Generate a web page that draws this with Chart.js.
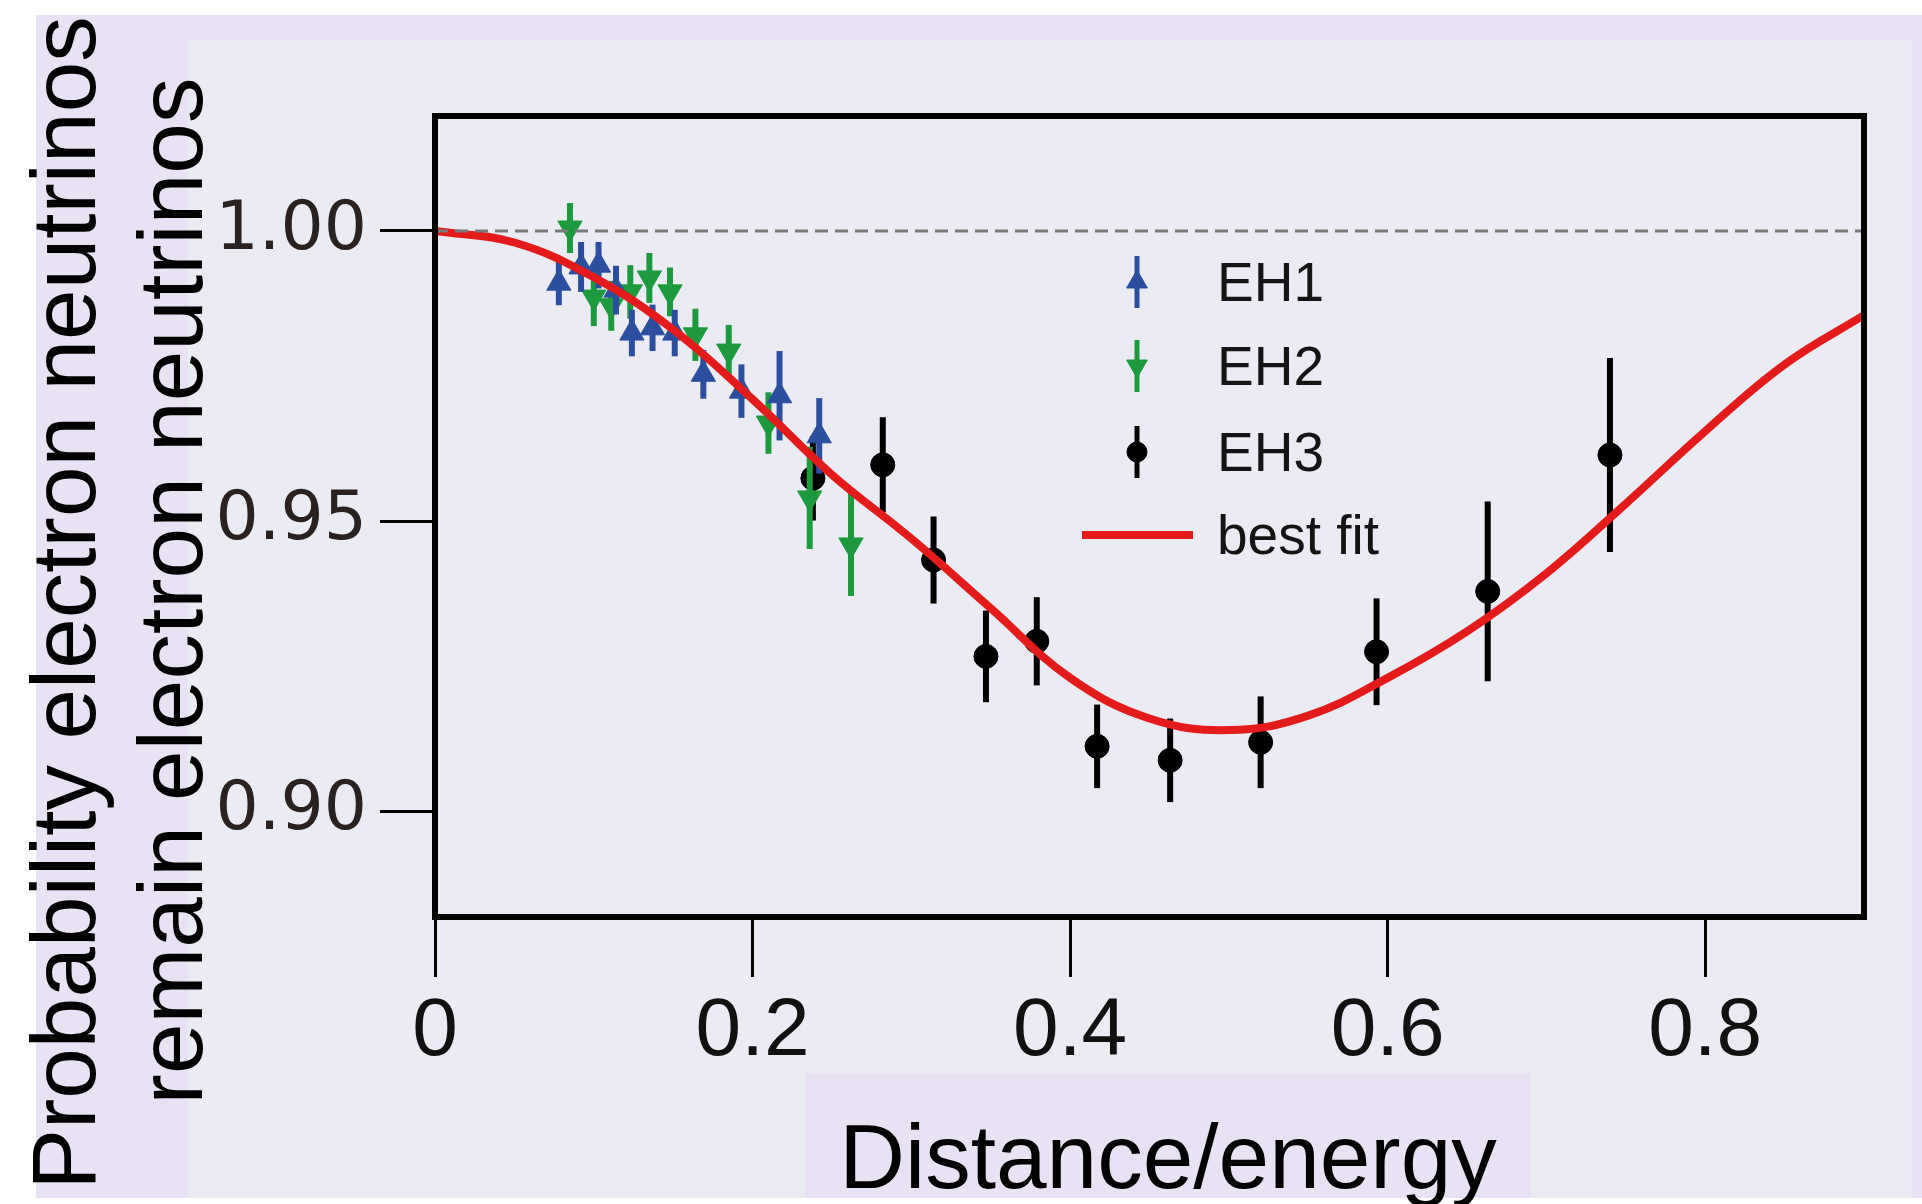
<!DOCTYPE html>
<html>
<head>
<meta charset="utf-8">
<title>Electron neutrino survival probability</title>
<script src="https://cdn.jsdelivr.net/npm/chart.js@4.4.1/dist/chart.umd.min.js"></script>
<style>
  html, body { margin: 0; padding: 0; background: #fff; }
  #chart { display: block; }
</style>
</head>
<body>
<canvas id="chart" width="1922" height="1204"></canvas>
<script>
// values
const xTicks = [0, 0.2, 0.4, 0.6, 0.8];
const xTickLabels = ['0', '0.2', '0.4', '0.6', '0.8'];
const yTicks = [0.90, 0.95, 1.00];
const yTickLabels = ['0.90', '0.95', '1.00'];

const eh1X = [0.078, 0.092, 0.103, 0.114, 0.124, 0.137, 0.151, 0.169, 0.193, 0.217, 0.242];
const eh1Y = [0.991, 0.9938, 0.9941, 0.9898, 0.9824, 0.9833, 0.9824, 0.9753, 0.9724, 0.9716, 0.9647];
const eh1Err = [0.0038, 0.0043, 0.004, 0.0042, 0.004, 0.004, 0.004, 0.0042, 0.0046, 0.0077, 0.0065];

const eh2X = [0.085, 0.100, 0.111, 0.123, 0.135, 0.148, 0.164, 0.185, 0.210, 0.236, 0.262];
const eh2Y = [1.0005, 0.9886, 0.9871, 0.9895, 0.9919, 0.9895, 0.9821, 0.9793, 0.9669, 0.954, 0.9459];
const eh2Err = [0.0043, 0.005, 0.0043, 0.0046, 0.0043, 0.0042, 0.0045, 0.0045, 0.0053, 0.0088, 0.0088];

const eh3X = [0.238, 0.282, 0.314, 0.347, 0.379, 0.417, 0.463, 0.520, 0.593, 0.663, 0.740];
const eh3Y = [0.9574, 0.9597, 0.9433, 0.9267, 0.9293, 0.9112, 0.9088, 0.9119, 0.9275, 0.9379, 0.9614];
const eh3Err = [0.0073, 0.0082, 0.0075, 0.0079, 0.0076, 0.0072, 0.0072, 0.0079, 0.0092, 0.0155, 0.0167];

const fitX = [0, 0.05, 0.1, 0.15, 0.2, 0.25, 0.3, 0.35, 0.4, 0.45, 0.5, 0.55, 0.6, 0.65, 0.7, 0.75, 0.8, 0.85, 0.9];
const fitY = [1.000, 0.998, 0.992, 0.983, 0.971, 0.958, 0.947, 0.935, 0.923, 0.916, 0.914, 0.9165, 0.923, 0.931, 0.941, 0.953, 0.9655, 0.977, 0.9855];

const refX = [0, 0.9];
const refY = [1.0, 1.0];

const BLUE = '#2b4f9e';
const GREEN = '#1e9a3e';
const BLACK = '#000000';
const RED = '#e41b1b';
const BG = '#ebebf4';
const LAVENDER = '#e9e2f5';

const toPoints = (xs, ys) => xs.map((x, i) => ({ x: x, y: ys[i] }));

// page background and the two axis titles
const backdrop = {
    id: 'backdrop',
    beforeDraw(chart) {
        const ctx = chart.ctx;
        ctx.save();
        ctx.fillStyle = '#ffffff';
        ctx.fillRect(0, 0, chart.width, chart.height);
        ctx.fillStyle = BG;
        ctx.fillRect(36, 15, 1886, 1183);
        ctx.fillStyle = LAVENDER;
        ctx.fillRect(36, 15, 1886, 25);
        ctx.fillRect(1912, 15, 10, 1183);
        ctx.fillRect(36, 15, 152, 1183);
        ctx.fillRect(805, 1073, 726, 125);

        ctx.fillStyle = '#000';
        ctx.font = '91px "Liberation Sans", Arial, sans-serif';
        ctx.textAlign = 'center';
        ctx.textBaseline = 'alphabetic';
        ctx.fillText('Distance/energy', 1168, 1188);

        ctx.translate(95, 603);
        ctx.rotate(-Math.PI / 2);
        ctx.fillText('Probability electron neutrinos', 0, 0);
        ctx.restore();

        ctx.save();
        ctx.fillStyle = '#000';
        ctx.font = '91px "Liberation Sans", Arial, sans-serif';
        ctx.textAlign = 'center';
        ctx.translate(202, 591);
        ctx.rotate(-Math.PI / 2);
        ctx.fillText('remain electron neutrinos', 0, 0);
        ctx.restore();
    }
};

// vertical error bars, drawn right after each dataset
const errorBars = {
    id: 'errorBars',
    afterDatasetDraw(chart, args) {
        const ds = chart.data.datasets[args.index];
        if (!ds.errors) return;
        const ctx = chart.ctx;
        const xs = chart.scales.x;
        const ys = chart.scales.y;
        ctx.save();
        ctx.strokeStyle = ds.borderColor;
        ctx.lineWidth = 6;
        ds.data.forEach((p, i) => {
            const px = xs.getPixelForValue(p.x);
            ctx.beginPath();
            ctx.moveTo(px, ys.getPixelForValue(p.y - ds.errors[i]));
            ctx.lineTo(px, ys.getPixelForValue(p.y + ds.errors[i]));
            ctx.stroke();
        });
        ctx.restore();
    }
};

// black box round the plot and the legend inside it
const frameAndLegend = {
    id: 'frameAndLegend',
    afterDraw(chart) {
        const ctx = chart.ctx;
        const a = chart.chartArea;
        ctx.save();
        ctx.strokeStyle = '#000';
        ctx.lineWidth = 6;
        ctx.strokeRect(a.left, a.top, a.right - a.left, a.bottom - a.top);

        const mx = 1137;
        const rows = [282, 366, 452, 535];
        ctx.font = '55px "Liberation Sans", Arial, sans-serif';
        ctx.textAlign = 'left';
        ctx.textBaseline = 'alphabetic';
        chart.data.datasets.forEach((ds) => {
            if (ds.legendRow === undefined) return;
            const y = rows[ds.legendRow];
            if (ds.errors) {
                ctx.strokeStyle = ds.borderColor;
                ctx.lineWidth = 5;
                ctx.beginPath();
                ctx.moveTo(mx, y - 26);
                ctx.lineTo(mx, y + 26);
                ctx.stroke();
                ctx.fillStyle = ds.backgroundColor;
                ctx.strokeStyle = ds.borderColor;
                ctx.lineWidth = 1;
                Chart.helpers.drawPoint(ctx, {
                    pointStyle: ds.pointStyle,
                    rotation: ds.rotation || 0,
                    radius: ds.pointRadius - 2,
                    borderWidth: 1
                }, mx, y);
            } else {
                ctx.strokeStyle = ds.borderColor;
                ctx.lineWidth = 8;
                ctx.beginPath();
                ctx.moveTo(1082, y);
                ctx.lineTo(1193, y);
                ctx.stroke();
            }
            ctx.fillStyle = '#141414';
            ctx.fillText(ds.label, 1217, y + 19);
        });
        ctx.restore();
    }
};

new Chart(document.getElementById('chart'), {
    type: 'scatter',
    data: {
        datasets: [
            {
                label: 'reference',
                data: toPoints(refX, refY),
                showLine: true,
                borderColor: '#7a7a7a',
                borderWidth: 3,
                borderDash: [13, 7],
                pointRadius: 0
            },
            {
                label: 'best fit',
                data: toPoints(fitX, fitY),
                showLine: true,
                borderColor: RED,
                borderWidth: 8,
                tension: 0.4,
                pointRadius: 0,
                legendRow: 3
            },
            {
                label: 'EH1',
                data: toPoints(eh1X, eh1Y),
                errors: eh1Err,
                backgroundColor: BLUE,
                borderColor: BLUE,
                borderWidth: 1,
                pointStyle: 'triangle',
                pointRadius: 14,
                legendRow: 0
            },
            {
                label: 'EH2',
                data: toPoints(eh2X, eh2Y),
                errors: eh2Err,
                backgroundColor: GREEN,
                borderColor: GREEN,
                borderWidth: 1,
                pointStyle: 'triangle',
                rotation: 180,
                pointRadius: 14,
                legendRow: 1
            },
            {
                label: 'EH3',
                data: toPoints(eh3X, eh3Y),
                errors: eh3Err,
                backgroundColor: BLACK,
                borderColor: BLACK,
                borderWidth: 1,
                pointStyle: 'circle',
                pointRadius: 12,
                legendRow: 2
            }
        ]
    },
    options: {
        responsive: false,
        animation: false,
        events: [],
        layout: { padding: { top: 116, right: 58, left: 0, bottom: 0 } },
        plugins: {
            legend: { display: false },
            tooltip: { enabled: false }
        },
        scales: {
            x: {
                type: 'linear',
                min: 0,
                max: 0.9,
                afterFit: (scale) => { scale.height = 287; },
                afterBuildTicks: (scale) => { scale.ticks = xTicks.map((v) => ({ value: v })); },
                border: { display: false },
                grid: {
                    drawOnChartArea: false,
                    color: '#000',
                    tickLength: 60,
                    tickWidth: 3
                },
                ticks: {
                    padding: 6,
                    color: '#111',
                    font: { family: '"Liberation Sans", Arial, sans-serif', size: 82 },
                    callback: (v) => xTickLabels[xTicks.indexOf(v)]
                }
            },
            y: {
                type: 'linear',
                min: 0.8818,
                max: 1.0198,
                afterFit: (scale) => { scale.width = 435; },
                afterBuildTicks: (scale) => { scale.ticks = yTicks.map((v) => ({ value: v })); },
                border: { display: false },
                grid: {
                    drawOnChartArea: false,
                    color: '#000',
                    tickLength: 55,
                    tickWidth: 3
                },
                ticks: {
                    padding: 13,
                    color: '#2a2220',
                    font: { family: '"DejaVu Sans", sans-serif', size: 68 },
                    callback: (v) => yTickLabels[yTicks.indexOf(v)]
                }
            }
        }
    },
    plugins: [backdrop, errorBars, frameAndLegend]
});
</script>
</body>
</html>
